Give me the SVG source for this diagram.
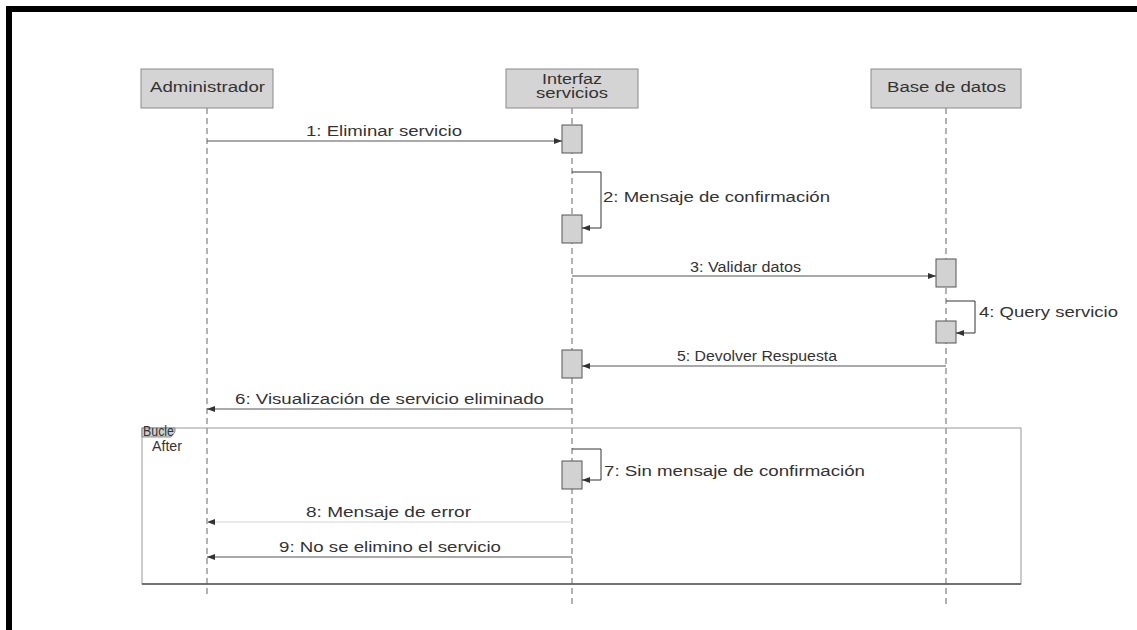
<svg xmlns="http://www.w3.org/2000/svg" width="1137" height="630" viewBox="0 0 1137 630">
  <style>
    .head { fill: #d4d4d4; stroke: #8a8a8a; stroke-width: 1; }
    .act { fill: #d2d2d2; stroke: #555; stroke-width: 1; }
    .life { stroke: #8a8a8a; stroke-width: 1.3; stroke-dasharray: 6 4; fill: none; }
    .msg { stroke: #555; stroke-width: 1.2; fill: none; }
    .faint { stroke: #d6d6d6; stroke-width: 1.2; fill: none; }
    .self { stroke: #333; stroke-width: 1; fill: none; }
    .txt { font-family: "Liberation Sans", Arial, sans-serif; font-size: 14px; fill: #333; }
    .lbl { font-family: "Liberation Sans", Arial, sans-serif; font-size: 14px; fill: #333; }
  </style>
  <defs>
    <marker id="ah" viewBox="0 0 8 6" refX="8" refY="3" markerWidth="8" markerHeight="6" markerUnits="userSpaceOnUse" orient="auto">
      <path d="M0,0 L8,3 L0,6 z" fill="#333"/>
    </marker>
  </defs>

  <rect width="1137" height="630" fill="#ffffff"/>
  <!-- outer frame -->
  <rect x="6" y="6" width="1131" height="6" fill="#000"/>
  <rect x="6" y="6" width="6" height="624" fill="#000"/>

  <!-- lifelines -->
  <g id="lifelines">
    <line class="life" x1="207" y1="108" x2="207" y2="598"/>
    <line class="life" x1="572" y1="108" x2="572" y2="606"/>
    <line class="life" x1="946" y1="108" x2="946" y2="606"/>
  </g>

  <g id="administrador">
    <rect class="head" x="141" y="69" width="132" height="39"/>
    <text class="txt" x="150" y="92" textLength="115" lengthAdjust="spacingAndGlyphs">Administrador</text>
  </g>

  <g id="interfaz">
    <rect class="head" x="506" y="69" width="132" height="39"/>
    <text class="txt" x="542" y="84" font-size="12.5" textLength="60" lengthAdjust="spacingAndGlyphs">Interfaz</text>
    <text class="txt" x="536" y="98" font-size="12.5" textLength="72" lengthAdjust="spacingAndGlyphs">servicios</text>
  </g>

  <g id="base-datos">
    <rect class="head" x="871" y="69" width="150" height="39"/>
    <text class="txt" x="887" y="92" textLength="119" lengthAdjust="spacingAndGlyphs">Base de datos</text>
  </g>

  <!-- activation bars -->
  <g id="activations">
    <rect class="act" x="562" y="125" width="20" height="28"/>
    <rect class="act" x="562" y="215" width="20" height="28"/>
    <rect class="act" x="936" y="259" width="20" height="28"/>
    <rect class="act" x="936" y="321" width="20" height="22"/>
    <rect class="act" x="562" y="350" width="20" height="28"/>
    <rect class="act" x="562" y="461" width="20" height="28"/>
  </g>

  <!-- loop fragment -->
  <g id="bucle">
    <rect x="142" y="428" width="879" height="156" fill="none" stroke="#999" stroke-width="1"/>
    <line x1="142" y1="584" x2="1021" y2="584" stroke="#555" stroke-width="1.3"/>
    <path d="M142,428 L175,428 L175,432 L171,437 L142,437 z" fill="#d0d0d0" stroke="#777" stroke-width="0.8"/>
    <text class="lbl" x="143" y="435.5" font-size="9.5" textLength="31" lengthAdjust="spacingAndGlyphs">Bucle</text>
    <text class="lbl" x="152" y="451" font-size="10.5" textLength="30" lengthAdjust="spacingAndGlyphs">After</text>
  </g>

  <!-- messages -->
  <g id="connectors">
    <line class="msg" x1="207" y1="141" x2="562" y2="141" marker-end="url(#ah)"/>
    <text class="lbl" x="306" y="136" textLength="156" lengthAdjust="spacingAndGlyphs">1: Eliminar servicio</text>

    <polyline class="self" points="572,172 601,172 601,228 582,228" marker-end="url(#ah)"/>
    <text class="lbl" x="603" y="202" textLength="227" lengthAdjust="spacingAndGlyphs">2: Mensaje de confirmación</text>

    <line class="msg" x1="572" y1="276" x2="936" y2="276" marker-end="url(#ah)"/>
    <text class="lbl" x="690" y="272" textLength="111" lengthAdjust="spacingAndGlyphs">3: Validar datos</text>

    <polyline class="self" points="946,301 975,301 975,333 956,333" marker-end="url(#ah)"/>
    <text class="lbl" x="979" y="317" textLength="139" lengthAdjust="spacingAndGlyphs">4: Query servicio</text>

    <line class="msg" x1="946" y1="366" x2="582" y2="366" marker-end="url(#ah)"/>
    <text class="lbl" x="677" y="361" textLength="160" lengthAdjust="spacingAndGlyphs">5: Devolver Respuesta</text>

    <line class="msg" x1="572" y1="409" x2="207" y2="409" marker-end="url(#ah)"/>
    <text class="lbl" x="235" y="404" textLength="309" lengthAdjust="spacingAndGlyphs">6: Visualización de servicio eliminado</text>

    <polyline class="self" points="572,449 601,449 601,480 582,480" marker-end="url(#ah)"/>
    <text class="lbl" x="604" y="476" textLength="261" lengthAdjust="spacingAndGlyphs">7: Sin mensaje de confirmación</text>

    <line class="faint" x1="572" y1="522" x2="207" y2="522" marker-end="url(#ah)"/>
    <text class="lbl" x="306" y="517" textLength="165" lengthAdjust="spacingAndGlyphs">8: Mensaje de error</text>

    <line class="msg" x1="572" y1="557" x2="207" y2="557" marker-end="url(#ah)"/>
    <text class="lbl" x="279" y="552" textLength="222" lengthAdjust="spacingAndGlyphs">9: No se elimino el servicio</text>
  </g>
</svg>
